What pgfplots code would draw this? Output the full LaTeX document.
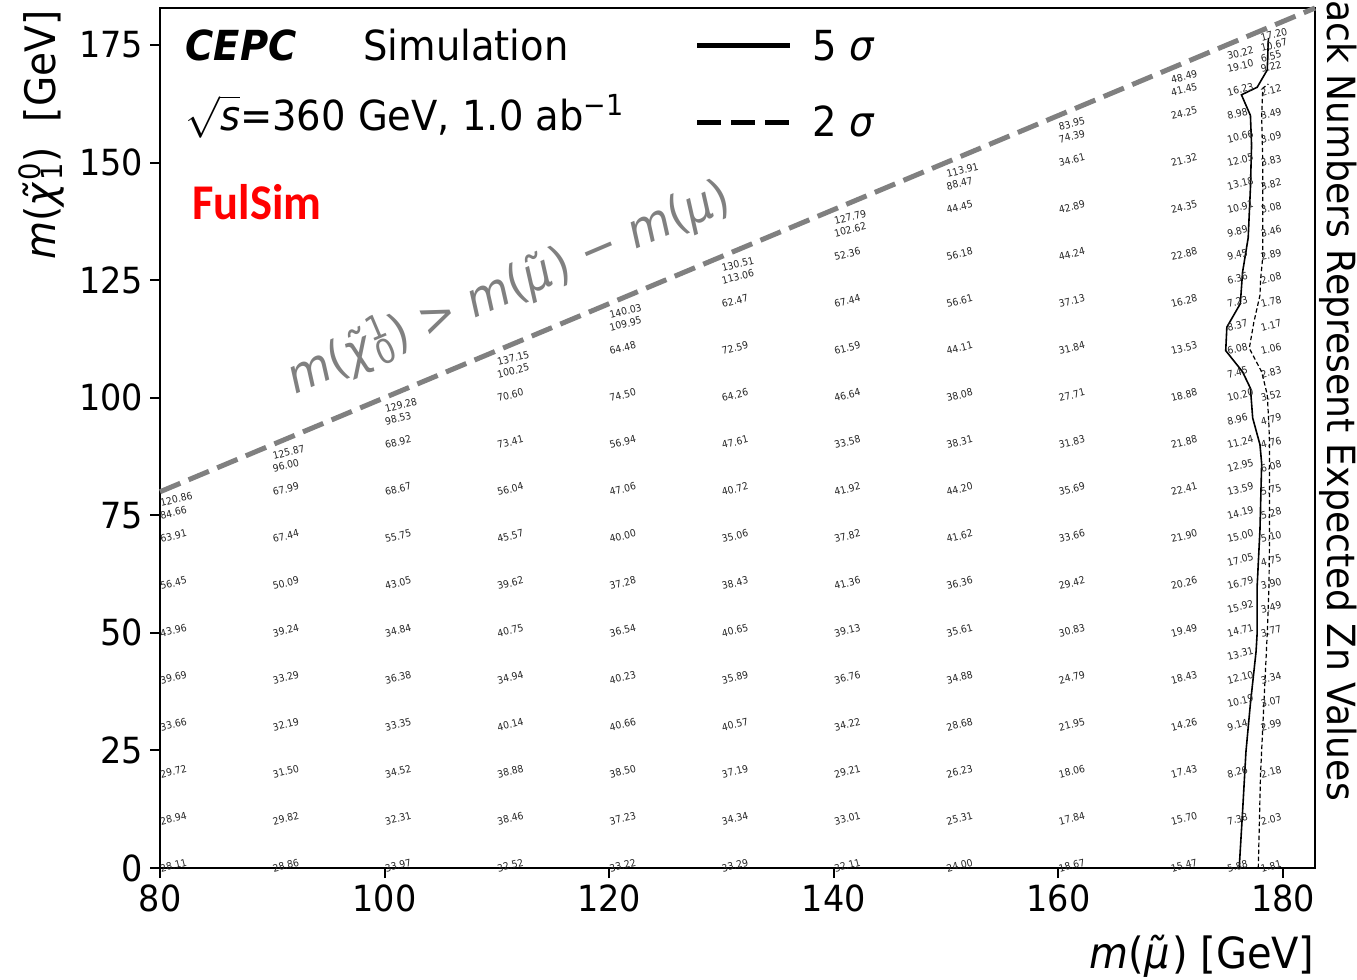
\documentclass[border=0pt]{standalone}
\usepackage{pgfplots}
\pgfplotsset{compat=1.18}
\usepackage{pgfplotstable}
\usepackage{fontspec}
\setmainfont{DejaVu Sans}[FakeStretch=0.93]
\newfontfamily\calibri{Carlito}[FakeStretch=0.93]
\definecolor{refgray}{RGB}{128,128,128}
\definecolor{fulred}{RGB}{255,0,0}

% expected Zn per grid point: m(smuon), m(neutralino), value
\pgfplotstableread{
x y z
80 0 28.11
80 10 28.94
80 20 29.72
80 30 33.66
80 40 39.69
80 50 43.96
80 60 56.45
80 70 63.91
80 75 84.66
80 77.7 120.86
90 0 28.86
90 10 29.82
90 20 31.50
90 30 32.19
90 40 33.29
90 50 39.24
90 60 50.09
90 70 67.44
90 80 67.99
90 85 96.00
90 87.7 125.87
100 0 33.97
100 10 32.31
100 20 34.52
100 30 33.35
100 40 36.38
100 50 34.84
100 60 43.05
100 70 55.75
100 80 68.67
100 90 68.92
100 95 98.53
100 97.7 129.28
110 0 32.52
110 10 38.46
110 20 38.88
110 30 40.14
110 40 34.94
110 50 40.75
110 60 39.62
110 70 45.57
110 80 56.04
110 90 73.41
110 100 70.60
110 105 100.25
110 107.7 137.15
120 0 33.22
120 10 37.23
120 20 38.50
120 30 40.66
120 40 40.23
120 50 36.54
120 60 37.28
120 70 40.00
120 80 47.06
120 90 56.94
120 100 74.50
120 110 64.48
120 115 109.95
120 117.7 140.03
130 0 33.29
130 10 34.34
130 20 37.19
130 30 40.57
130 40 35.89
130 50 40.65
130 60 38.43
130 70 35.06
130 80 40.72
130 90 47.61
130 100 64.26
130 110 72.59
130 120 62.47
130 125 113.06
130 127.7 130.51
140 0 32.11
140 10 33.01
140 20 29.21
140 30 34.22
140 40 36.76
140 50 39.13
140 60 41.36
140 70 37.82
140 80 41.92
140 90 33.58
140 100 46.64
140 110 61.59
140 120 67.44
140 130 52.36
140 135 102.62
140 137.7 127.79
150 0 24.00
150 10 25.31
150 20 26.23
150 30 28.68
150 40 34.88
150 50 35.61
150 60 36.36
150 70 41.62
150 80 44.20
150 90 38.31
150 100 38.08
150 110 44.11
150 120 56.61
150 130 56.18
150 140 44.45
150 145 88.47
150 147.7 113.91
160 0 18.67
160 10 17.84
160 20 18.06
160 30 21.95
160 40 24.79
160 50 30.83
160 60 29.42
160 70 33.66
160 80 35.69
160 90 31.83
160 100 27.71
160 110 31.84
160 120 37.13
160 130 44.24
160 140 42.89
160 150 34.61
160 155 74.39
160 157.7 83.95
170 0 15.47
170 10 15.70
170 20 17.43
170 30 14.26
170 40 18.43
170 50 19.49
170 60 20.26
170 70 21.90
170 80 22.41
170 90 21.88
170 100 18.88
170 110 13.53
170 120 16.28
170 130 22.88
170 140 24.35
170 150 21.32
170 160 24.25
170 165 41.45
170 167.7 48.49
175 0 5.88
175 10 7.38
175 20 8.26
175 30 9.14
175 35 10.19
175 40 12.10
175 45 13.31
175 50 14.71
175 55 15.92
175 60 16.79
175 65 17.05
175 70 15.00
175 75 14.19
175 80 13.59
175 85 12.95
175 90 11.24
175 95 8.96
175 100 10.20
175 105 7.45
175 110 6.08
175 115 8.37
175 120 7.23
175 125 6.36
175 130 9.45
175 135 9.89
175 140 10.91
175 145 13.18
175 150 12.05
175 155 10.66
175 160 8.98
175 165 16.23
175 170 19.10
175 172.7 30.22
178 0 1.81
178 10 2.03
178 20 2.18
178 30 2.99
178 35 3.07
178 40 3.34
178 50 3.77
178 55 3.49
178 60 3.90
178 65 4.75
178 70 5.10
178 75 5.28
178 80 5.75
178 85 6.08
178 90 4.76
178 95 4.79
178 100 3.52
178 105 2.83
178 110 1.06
178 115 1.17
178 120 1.78
178 125 2.08
178 130 2.89
178 135 3.46
178 140 3.08
178 145 3.82
178 150 3.83
178 155 3.09
178 160 3.49
178 165 2.12
178 170 9.22
178 172.2 6.55
178 174.4 10.67
178 176.7 17.20
}\cells

\begin{document}
\begin{tikzpicture}
\begin{axis}[
    scale only axis,
    width=577.5pt, height=430pt,
    xmin=80, xmax=182.85,
    ymin=0, ymax=182.85,
    xtick={80,100,...,180},
    ytick={0,25,...,175},
    tick align=outside,
    xtick pos=bottom, ytick pos=left,
    major tick length=5pt,
    every tick/.style={black, line width=1pt},
    axis line style={line width=1.25pt},
    tick label style={font=\fontsize{18}{21}\selectfont},
    /pgf/number format/assume math mode=true,
    clip=false,
]
% Zn numbers
\addplot[draw=none, mark=none, nodes near coords, point meta=explicit symbolic,
    every node near coord/.append style={anchor=base west, rotate=14, inner sep=0pt,
        yshift=-2.2pt, font=\fontsize{5}{6}\selectfont, text=black!85}]
    table[x=x, y=y, meta=z] {\cells};

% 5 sigma contour
\addplot[black, line width=0.8pt] coordinates {
    (176.1,0) (176.4,12) (176.7,24.7) (177.1,35) (177.6,46) (177.7,50) (177.7,60)
    (177.95,72) (178.1,86) (177.95,90) (177.3,95.7) (177.1,102) (176.4,105.5)
    (174.9,110) (175.0,115) (176.2,120) (176.4,126.7) (176.9,134) (177.1,144.6)
    (177.2,153.7) (177.1,160) (176.3,164.4) (177.7,166) (178.6,169.7) (178.7,176.5)
};
% 2 sigma contour
\addplot[black, line width=0.6pt, dash pattern=on 2.2pt off 1.3pt] coordinates {
    (177.8,0) (177.9,10) (178.0,20) (178.2,30) (178.4,40) (178.6,50) (178.75,60)
    (178.8,70) (178.8,80) (178.8,90) (178.75,94) (178.6,100.6) (178.1,105.5)
    (177.0,110.5) (177.4,116) (177.95,121.8) (178.0,125) (178.2,130) (178.2,140)
    (178.2,150) (178.1,160) (178.2,165.8) (178.7,166.7)
};
% kinematic limit
\addplot[refgray, line width=2.5pt, dash pattern=on 11pt off 4.5pt] coordinates {(80,80) (182.85,182.85)};

% legend
\draw[black, line width=2.5pt] (axis cs:127.82,174.8) -- (axis cs:136.1,174.8);
\draw[black, line width=2.5pt, dash pattern=on 12pt off 5pt] (axis cs:127.82,158.6) -- (axis cs:136.1,158.6);
\node[anchor=base west, inner sep=0pt, font=\fontsize{20.7}{24}\selectfont] at (axis cs:138.06,171.8) {5 \textit{σ}};
\node[anchor=base west, inner sep=0pt, font=\fontsize{20.7}{24}\selectfont] at (axis cs:138.06,155.6) {2 \textit{σ}};

% labels inside the frame
\node[anchor=base west, inner sep=0pt, font=\fontsize{20.7}{24}\selectfont\bfseries\itshape] at (axis cs:82.23,171.8) {CEPC};
\node[anchor=base west, inner sep=0pt, font=\fontsize{20.7}{24}\selectfont] at (axis cs:98.08,171.8) {Simulation};
\node[anchor=base west, inner sep=0pt, font=\fontsize{20.7}{24}\selectfont] at (axis cs:82.23,156.9) {$\sqrt{\mbox{\itshape s}}$=360 GeV, 1.0 ab\textsuperscript{^^^^22121}};
\node[anchor=base west, inner sep=0pt, font=\fontsize{25}{29}\selectfont\calibri\bfseries, text=fulred] at (axis cs:82.85,137.8) {FulSim};
\node[rotate=23, inner sep=0pt, text=refgray, font=\fontsize{24}{28}\selectfont] at (axis cs:111.0,123.7)
    {\textit{m}(\textit{χ^^^^0303}\rlap{\textsuperscript{1}}\textsubscript{0}) > \textit{m}(\textit{μ^^^^0303}) ^^^^2212 \textit{m}(\textit{μ})};

% axis titles
\node[anchor=base east, inner sep=0pt, font=\fontsize{21.5}{25}\selectfont] at (axis cs:182.85,-21.3)
    {\textit{m}(\textit{μ^^^^0303}) [GeV]};
\node[rotate=90, anchor=base east, inner sep=0pt, font=\fontsize{21}{25}\selectfont] at (axis cs:70.7,182.4)
    {\textit{m}(\textit{χ^^^^0303}\rlap{\textsuperscript{0}}\textsubscript{1})\hspace{0.3em} [GeV]};
\node[rotate=-90, anchor=base west, inner sep=0pt, font=\fontsize{19.4}{22}\selectfont] at (axis cs:184.0,184.6)
    {ack Numbers Represent Expected Zn Values};

\coordinate (bbA) at (axis cs:65.75,-23.6);
\coordinate (bbB) at (axis cs:186.59,184.56);
\end{axis}
\pgfresetboundingbox
\path[use as bounding box] (bbA) rectangle (bbB);
\end{tikzpicture}
\end{document}
